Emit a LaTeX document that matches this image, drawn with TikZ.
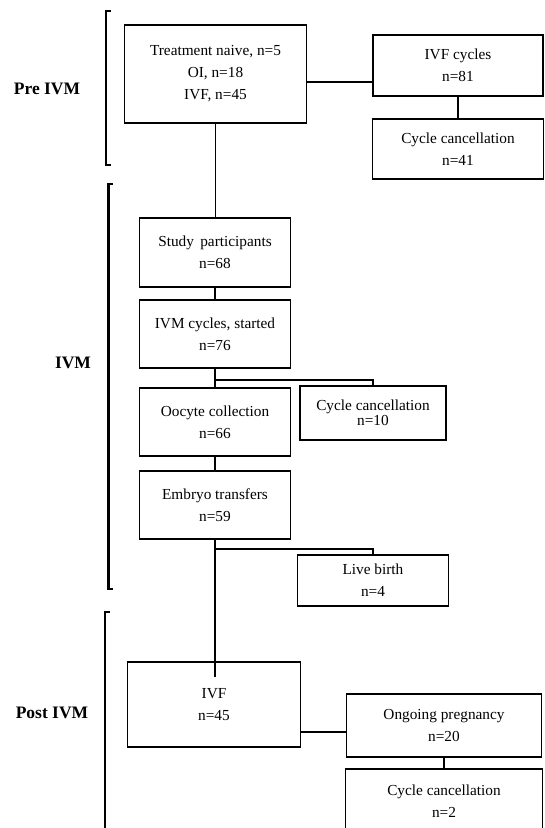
\documentclass[tikz,border=0pt]{standalone}
\usepackage{fontspec}
\setmainfont{Liberation Serif}
\usepackage{tikz}

\begin{document}
\begin{tikzpicture}[x=1pt, y=-1pt,
    box/.style={draw, line width=1.8pt, align=center, inner sep=0pt, font=\fontsize{15.3}{22}\selectfont},
    thinbox/.style={box, line width=1.3pt},
    link/.style={line width=1.3pt},
    bracket/.style={line width=2.2pt},
    phase/.style={font=\fontsize{17.5}{20}\selectfont\bfseries}]
    \useasboundingbox (0,0) rectangle (545,828);
    \clip (0,0) rectangle (545,828);
    \node[box, minimum width=182, minimum height=98] (pre) at (215.5,74) {Treatment naive, n=5\\OI, n=18\\IVF, n=45};
    \node[box, minimum width=170, minimum height=61] (ivfcyc) at (458,65.5) {IVF cycles\\n=81};
    \node[box, minimum width=171, minimum height=60] (cancA) at (458,149) {Cycle cancellation\\n=41};
    \node[box, minimum width=151, minimum height=69] (study) at (215,252.5) {Study\, participants\\n=68};
    \node[box, minimum width=151, minimum height=68] (ivmcyc) at (215,334) {IVM cycles, started\\n=76};
    \node[box, minimum width=151, minimum height=68] (oocyte) at (215,422) {Oocyte collection\\n=66};
    \node[box, minimum width=146, minimum height=54, font=\fontsize{15.3}{15}\selectfont] (cancB) at (373,413) {Cycle cancellation\\n=10};
    \node[box, minimum width=151, minimum height=68] (embryo) at (215,505) {Embryo transfers\\n=59};
    \node[box, minimum width=151, minimum height=51] (live) at (373,580.5) {Live birth\\n=4};
    \node[thinbox, minimum width=173, minimum height=85] (ivfpost) at (214,704.5) {IVF\\n=45};
    \node[thinbox, minimum width=195, minimum height=63] (ongoing) at (444,725.5) {Ongoing pregnancy\\n=20};
    \node[box, minimum width=197, minimum height=64] (cancC) at (444,801) {Cycle cancellation\\n=2};
    \coordinate (j1) at (0,82);
    \coordinate (j2) at (0,380);
    \coordinate (j3) at (0,549);
    \coordinate (j4) at (0,732);
    \coordinate (ivfend) at (215,677);
    \draw[link] (pre.east |- j1) -- (ivfcyc.west |- j1);
    \draw[link] (ivfcyc.south) -- (cancA.north);
    \draw[link] (pre.south) -- (pre.south |- study.north);
    \draw[link] (study.south) -- (ivmcyc.north);
    \draw[link] (ivmcyc.south) -- (oocyte.north);
    \draw[link] (ivmcyc.south |- j2) -| (cancB.north);
    \draw[link] (oocyte.south) -- (embryo.north);
    \draw[link] (embryo.south |- j3) -| (live.north);
    \draw[link] (embryo.south) -- (ivfend);
    \draw[link] (ivfpost.east |- j4) -- (ongoing.west |- j4);
    \draw[link] (ongoing.south) -- (cancC.north);
    \draw[bracket] (110.5,11) -- (106,11) -- (106,165) -- (110.5,165);
    \draw[bracket] (113,184) -- (108.5,184) -- (108.5,589) -- (113,589);
    \draw[bracket] (109.5,612) -- (105,612) -- (105,840);
    \node[phase] (prelbl) at (47,89) {Pre IVM};
    \node[phase] (ivmlbl) at (73,363) {IVM};
    \node[phase] (postlbl) at (52,713) {Post IVM};
\end{tikzpicture}
\end{document}
